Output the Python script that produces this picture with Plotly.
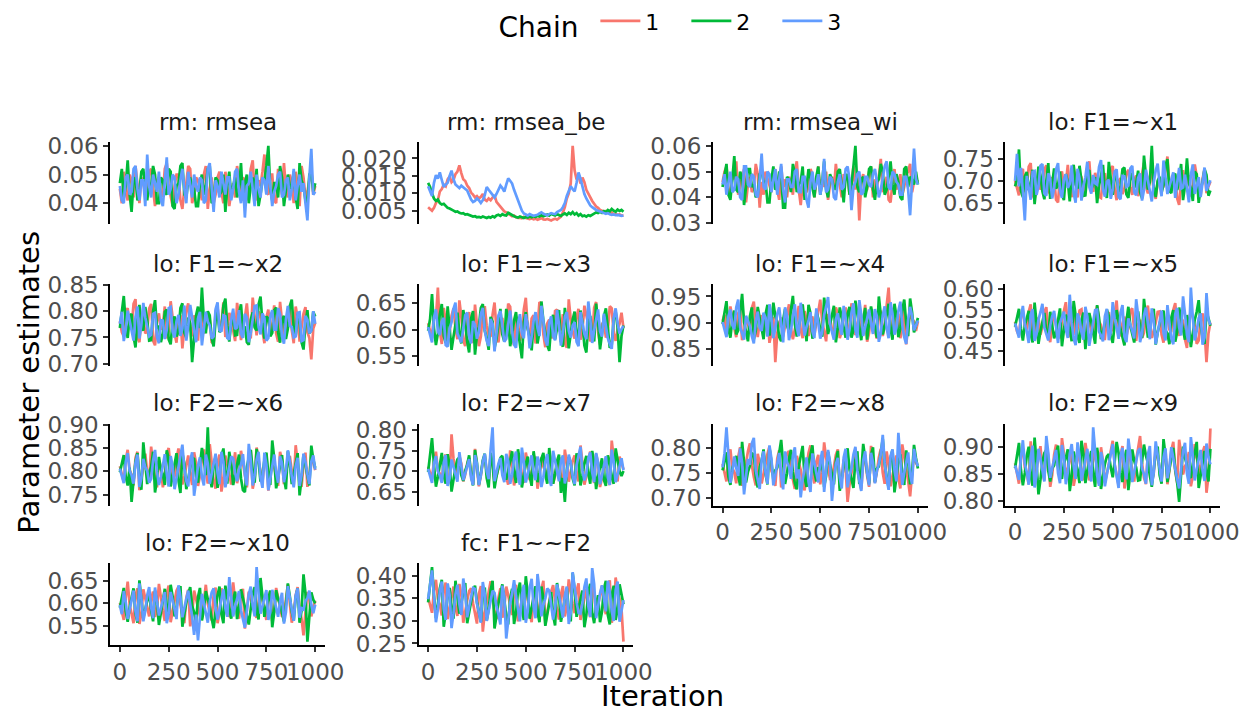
import plotly.graph_objects as go

# ---------------------------------------------------------------------------
# MCMC trace data: three chains per parameter, one draw every 10 iterations
# ---------------------------------------------------------------------------
ITER_STEP = 10

chain_labels = ["1", "2", "3"]
chain_colors = ["#F8766D", "#00BA38", "#619CFF"]

x_tick_vals = [0, 250, 500, 750, 1000]
x_tick_text = ["0", "250", "500", "750", "1000"]

# rm: rmsea
rmsea_c1 = [0.045, 0.040, 0.051, 0.044, 0.041, 0.050, 0.048, 0.042, 0.053, 0.046,
            0.040, 0.049, 0.047, 0.043, 0.044, 0.051, 0.052, 0.045, 0.039, 0.048,
            0.049, 0.042, 0.043, 0.052, 0.054, 0.046, 0.042, 0.039, 0.046, 0.050,
            0.050, 0.041, 0.038, 0.045, 0.047, 0.053, 0.052, 0.040, 0.043, 0.049,
            0.048, 0.044, 0.041, 0.050, 0.053, 0.038, 0.045, 0.049, 0.040, 0.043,
            0.049, 0.051, 0.044, 0.040, 0.051, 0.046, 0.039, 0.044, 0.047, 0.042,
            0.053, 0.048, 0.042, 0.049, 0.048, 0.041, 0.045, 0.052, 0.055, 0.043,
            0.041, 0.048, 0.046, 0.051, 0.057, 0.044, 0.043, 0.050, 0.050, 0.041,
            0.040, 0.052, 0.048, 0.043, 0.054, 0.045, 0.042, 0.050, 0.047, 0.040,
            0.051, 0.046, 0.039, 0.053, 0.049, 0.042, 0.044, 0.048, 0.052, 0.043, 0.046]
rmsea_c2 = [0.047, 0.052, 0.042, 0.046, 0.055, 0.043, 0.037, 0.048, 0.049, 0.041,
            0.044, 0.051, 0.052, 0.045, 0.041, 0.047, 0.046, 0.053, 0.050, 0.040,
            0.040, 0.049, 0.048, 0.044, 0.043, 0.052, 0.051, 0.039, 0.038, 0.046,
            0.047, 0.053, 0.054, 0.043, 0.042, 0.048, 0.049, 0.045, 0.045, 0.039,
            0.039, 0.047, 0.050, 0.043, 0.046, 0.052, 0.053, 0.040, 0.041, 0.049,
            0.048, 0.043, 0.044, 0.050, 0.037, 0.046, 0.051, 0.042, 0.046, 0.049,
            0.042, 0.045, 0.054, 0.041, 0.047, 0.050, 0.040, 0.046, 0.049, 0.044,
            0.052, 0.039, 0.043, 0.048, 0.048, 0.053, 0.060, 0.045, 0.041, 0.047,
            0.047, 0.042, 0.053, 0.049, 0.039, 0.044, 0.050, 0.046, 0.045, 0.051,
            0.042, 0.038, 0.054, 0.048, 0.046, 0.041, 0.040, 0.050, 0.051, 0.044, 0.047]
rmsea_c3 = [0.046, 0.041, 0.040, 0.049, 0.050, 0.043, 0.044, 0.052, 0.053, 0.045,
            0.041, 0.048, 0.048, 0.039, 0.057, 0.046, 0.042, 0.050, 0.047, 0.044,
            0.051, 0.041, 0.039, 0.047, 0.056, 0.043, 0.045, 0.050, 0.049, 0.040,
            0.043, 0.048, 0.052, 0.045, 0.040, 0.051, 0.047, 0.042, 0.050, 0.046,
            0.044, 0.049, 0.048, 0.040, 0.041, 0.052, 0.054, 0.044, 0.037, 0.048,
            0.046, 0.042, 0.051, 0.047, 0.043, 0.049, 0.049, 0.041, 0.045, 0.051,
            0.052, 0.044, 0.040, 0.048, 0.035, 0.046, 0.047, 0.051, 0.044, 0.039,
            0.050, 0.045, 0.042, 0.049, 0.048, 0.043, 0.053, 0.047, 0.039, 0.044,
            0.046, 0.050, 0.051, 0.042, 0.043, 0.048, 0.049, 0.041, 0.045, 0.052,
            0.041, 0.046, 0.050, 0.044, 0.047, 0.040, 0.034, 0.049, 0.059, 0.043, 0.044]
rmsea_ticks = [0.04, 0.05, 0.06]
rmsea_tick_text = ["0.04", "0.05", "0.06"]

# rm: rmsea_be
rmsea_be_c1 = [0.0060, 0.0054, 0.0050, 0.0058, 0.0072, 0.0080, 0.0105, 0.0112, 0.0125, 0.0120,
               0.0140, 0.0148, 0.0132, 0.0138, 0.0155, 0.0162, 0.0180, 0.0158, 0.0140, 0.0135,
               0.0122, 0.0115, 0.0102, 0.0096, 0.0088, 0.0092, 0.0085, 0.0090, 0.0098, 0.0082,
               0.0078, 0.0085, 0.0080, 0.0088, 0.0095, 0.0075, 0.0068, 0.0060, 0.0052, 0.0048,
               0.0045, 0.0040, 0.0038, 0.0034, 0.0036, 0.0031, 0.0029, 0.0030, 0.0028, 0.0032,
               0.0029, 0.0027, 0.0026, 0.0028, 0.0025, 0.0027, 0.0024, 0.0026, 0.0029, 0.0025,
               0.0024, 0.0026, 0.0023, 0.0022, 0.0025, 0.0027, 0.0024, 0.0028, 0.0033, 0.0045,
               0.0060, 0.0085, 0.0100, 0.0128, 0.0236, 0.0165, 0.0140, 0.0152, 0.0128, 0.0145,
               0.0132, 0.0110, 0.0098, 0.0085, 0.0078, 0.0070, 0.0062, 0.0058, 0.0052, 0.0050,
               0.0047, 0.0049, 0.0044, 0.0042, 0.0045, 0.0040, 0.0041, 0.0038, 0.0039, 0.0036, 0.0036]
rmsea_be_c2 = [0.0130, 0.0118, 0.0100, 0.0085, 0.0078, 0.0082, 0.0072, 0.0068, 0.0070, 0.0063,
               0.0058, 0.0056, 0.0052, 0.0050, 0.0047, 0.0048, 0.0044, 0.0042, 0.0043, 0.0039,
               0.0040, 0.0037, 0.0035, 0.0033, 0.0034, 0.0031, 0.0032, 0.0030, 0.0033, 0.0031,
               0.0029, 0.0032, 0.0030, 0.0034, 0.0031, 0.0036, 0.0038, 0.0035, 0.0040, 0.0037,
               0.0036, 0.0044, 0.0040, 0.0037, 0.0034, 0.0032, 0.0030, 0.0033, 0.0031, 0.0029,
               0.0032, 0.0030, 0.0033, 0.0031, 0.0034, 0.0032, 0.0035, 0.0033, 0.0037, 0.0034,
               0.0036, 0.0039, 0.0036, 0.0041, 0.0038, 0.0036, 0.0040, 0.0037, 0.0035, 0.0039,
               0.0042, 0.0038, 0.0044, 0.0040, 0.0046, 0.0039, 0.0043, 0.0036, 0.0040, 0.0034,
               0.0036, 0.0033, 0.0037, 0.0035, 0.0039, 0.0042, 0.0045, 0.0043, 0.0047, 0.0044,
               0.0049, 0.0046, 0.0052, 0.0048, 0.0055, 0.0050, 0.0047, 0.0053, 0.0049, 0.0052, 0.0047]
rmsea_be_c3 = [0.0120, 0.0105, 0.0092, 0.0130, 0.0152, 0.0142, 0.0160, 0.0138, 0.0118, 0.0125,
               0.0130, 0.0150, 0.0165, 0.0140, 0.0125, 0.0120, 0.0115, 0.0122, 0.0118, 0.0112,
               0.0108, 0.0095, 0.0082, 0.0075, 0.0078, 0.0085, 0.0080, 0.0072, 0.0080, 0.0095,
               0.0118, 0.0110, 0.0102, 0.0095, 0.0088, 0.0098, 0.0112, 0.0122, 0.0115, 0.0105,
               0.0125, 0.0143, 0.0136, 0.0128, 0.0110, 0.0095, 0.0078, 0.0065, 0.0050, 0.0042,
               0.0038, 0.0036, 0.0040, 0.0038, 0.0035, 0.0037, 0.0038, 0.0042, 0.0045, 0.0041,
               0.0039, 0.0037, 0.0040, 0.0043, 0.0041, 0.0040, 0.0046, 0.0048, 0.0052, 0.0060,
               0.0072, 0.0092, 0.0105, 0.0120, 0.0112, 0.0105, 0.0130, 0.0160, 0.0142, 0.0115,
               0.0098, 0.0085, 0.0075, 0.0065, 0.0060, 0.0055, 0.0052, 0.0050, 0.0047, 0.0046,
               0.0043, 0.0041, 0.0043, 0.0040, 0.0038, 0.0039, 0.0037, 0.0038, 0.0036, 0.0035, 0.0036]
rmsea_be_ticks = [0.005, 0.010, 0.015, 0.020]
rmsea_be_tick_text = ["0.005", "0.010", "0.015", "0.020"]

# rm: rmsea_wi
rmsea_wi_c1 = [0.046, 0.050, 0.052, 0.043, 0.040, 0.049, 0.047, 0.054, 0.041, 0.044,
               0.047, 0.051, 0.038, 0.045, 0.048, 0.042, 0.044, 0.053, 0.049, 0.036,
               0.046, 0.041, 0.050, 0.047, 0.045, 0.042, 0.049, 0.051, 0.043, 0.039,
               0.052, 0.044, 0.047, 0.040, 0.048, 0.046, 0.041, 0.050, 0.054, 0.043,
               0.037, 0.045, 0.048, 0.042, 0.044, 0.051, 0.049, 0.040, 0.046, 0.052,
               0.042, 0.047, 0.044, 0.050, 0.039, 0.045, 0.048, 0.043, 0.053, 0.046,
               0.045, 0.040, 0.049, 0.047, 0.048, 0.041, 0.045, 0.052, 0.043, 0.049,
               0.031, 0.046, 0.049, 0.042, 0.043, 0.050, 0.052, 0.040, 0.047, 0.044,
               0.048, 0.055, 0.042, 0.045, 0.048, 0.039, 0.038, 0.046, 0.051, 0.043,
               0.045, 0.049, 0.041, 0.044, 0.049, 0.050, 0.053, 0.042, 0.046, 0.047, 0.046]
rmsea_wi_c2 = [0.044, 0.049, 0.053, 0.041, 0.039, 0.047, 0.056, 0.043, 0.042, 0.050,
               0.048, 0.037, 0.045, 0.051, 0.051, 0.044, 0.045, 0.040, 0.041, 0.049,
               0.050, 0.046, 0.046, 0.038, 0.038, 0.047, 0.052, 0.043, 0.044, 0.050,
               0.049, 0.036, 0.036, 0.048, 0.047, 0.042, 0.053, 0.049, 0.042, 0.045,
               0.046, 0.052, 0.039, 0.044, 0.051, 0.047, 0.044, 0.040, 0.048, 0.052,
               0.041, 0.046, 0.054, 0.043, 0.040, 0.049, 0.047, 0.044, 0.043, 0.050,
               0.051, 0.045, 0.038, 0.048, 0.049, 0.041, 0.045, 0.052, 0.060, 0.044,
               0.042, 0.047, 0.048, 0.040, 0.044, 0.051, 0.052, 0.043, 0.039, 0.046,
               0.047, 0.053, 0.050, 0.041, 0.043, 0.048, 0.054, 0.045, 0.041, 0.049,
               0.046, 0.040, 0.039, 0.051, 0.052, 0.044, 0.048, 0.047, 0.045, 0.050, 0.045]
rmsea_wi_c3 = [0.045, 0.049, 0.041, 0.046, 0.050, 0.042, 0.043, 0.048, 0.047, 0.040,
               0.039, 0.052, 0.052, 0.045, 0.044, 0.049, 0.048, 0.041, 0.040, 0.047,
               0.057, 0.044, 0.043, 0.050, 0.049, 0.042, 0.046, 0.051, 0.041, 0.048,
               0.053, 0.043, 0.038, 0.047, 0.047, 0.044, 0.044, 0.050, 0.051, 0.042,
               0.042, 0.048, 0.048, 0.039, 0.036, 0.046, 0.050, 0.043, 0.045, 0.049,
               0.041, 0.045, 0.055, 0.042, 0.043, 0.048, 0.047, 0.040, 0.039, 0.046,
               0.049, 0.043, 0.044, 0.051, 0.052, 0.047, 0.035, 0.044, 0.046, 0.049,
               0.050, 0.041, 0.042, 0.048, 0.048, 0.045, 0.044, 0.049, 0.051, 0.046,
               0.040, 0.043, 0.047, 0.052, 0.054, 0.044, 0.043, 0.050, 0.049, 0.046,
               0.045, 0.041, 0.041, 0.048, 0.048, 0.043, 0.033, 0.045, 0.059, 0.047, 0.045]
rmsea_wi_ticks = [0.03, 0.04, 0.05, 0.06]
rmsea_wi_tick_text = ["0.03", "0.04", "0.05", "0.06"]

# lo: F1=~x1
x1_c1 = [0.702, 0.684, 0.668, 0.719, 0.728, 0.676, 0.684, 0.733, 0.741, 0.669,
         0.659, 0.702, 0.712, 0.681, 0.690, 0.727, 0.736, 0.678, 0.671, 0.709,
         0.705, 0.658, 0.652, 0.713, 0.722, 0.687, 0.694, 0.737, 0.680, 0.664,
         0.731, 0.699, 0.663, 0.716, 0.709, 0.672, 0.687, 0.731, 0.745, 0.685,
         0.676, 0.719, 0.700, 0.665, 0.662, 0.708, 0.718, 0.674, 0.691, 0.729,
         0.734, 0.682, 0.657, 0.700, 0.707, 0.671, 0.683, 0.717, 0.726, 0.688,
         0.669, 0.703, 0.713, 0.666, 0.695, 0.724, 0.742, 0.689, 0.672, 0.711,
         0.720, 0.677, 0.660, 0.698, 0.703, 0.681, 0.688, 0.723, 0.756, 0.693,
         0.679, 0.716, 0.711, 0.661, 0.646, 0.702, 0.725, 0.683, 0.697, 0.714,
         0.665, 0.690, 0.738, 0.705, 0.684, 0.668, 0.706, 0.727, 0.673, 0.688, 0.699]
x1_c2 = [0.688, 0.704, 0.772, 0.678, 0.664, 0.711, 0.721, 0.680, 0.695, 0.726,
         0.648, 0.689, 0.733, 0.714, 0.677, 0.659, 0.706, 0.741, 0.660, 0.694,
         0.729, 0.683, 0.691, 0.722, 0.671, 0.657, 0.716, 0.699, 0.654, 0.718,
         0.737, 0.692, 0.683, 0.735, 0.702, 0.667, 0.668, 0.720, 0.725, 0.681,
         0.693, 0.709, 0.650, 0.690, 0.713, 0.737, 0.680, 0.662, 0.744, 0.701,
         0.669, 0.715, 0.708, 0.675, 0.686, 0.727, 0.731, 0.670, 0.662, 0.704,
         0.719, 0.685, 0.696, 0.724, 0.675, 0.661, 0.758, 0.712, 0.681, 0.698,
         0.780, 0.687, 0.664, 0.701, 0.710, 0.674, 0.692, 0.735, 0.750, 0.678,
         0.673, 0.713, 0.717, 0.680, 0.700, 0.739, 0.657, 0.690, 0.752, 0.694,
         0.685, 0.655, 0.722, 0.716, 0.651, 0.683, 0.698, 0.728, 0.714, 0.667, 0.679]
x1_c3 = [0.701, 0.762, 0.688, 0.730, 0.676, 0.611, 0.712, 0.683, 0.658, 0.721,
         0.723, 0.669, 0.689, 0.735, 0.739, 0.672, 0.667, 0.718, 0.705, 0.661,
         0.684, 0.727, 0.741, 0.679, 0.662, 0.703, 0.716, 0.685, 0.694, 0.736,
         0.673, 0.651, 0.728, 0.706, 0.656, 0.690, 0.709, 0.744, 0.687, 0.672,
         0.714, 0.695, 0.692, 0.733, 0.748, 0.681, 0.665, 0.699, 0.703, 0.660,
         0.681, 0.722, 0.727, 0.664, 0.659, 0.712, 0.711, 0.687, 0.690, 0.729,
         0.735, 0.675, 0.668, 0.707, 0.718, 0.656, 0.680, 0.726, 0.700, 0.684,
         0.654, 0.697, 0.724, 0.740, 0.693, 0.666, 0.747, 0.709, 0.671, 0.688,
         0.706, 0.720, 0.662, 0.699, 0.730, 0.683, 0.686, 0.715, 0.677, 0.652,
         0.715, 0.738, 0.671, 0.694, 0.709, 0.664, 0.702, 0.731, 0.678, 0.693, 0.702]
x1_ticks = [0.65, 0.70, 0.75]
x1_tick_text = ["0.65", "0.70", "0.75"]

# lo: F1=~x2
x2_c1 = [0.781, 0.760, 0.752, 0.799, 0.806, 0.771, 0.768, 0.814, 0.823, 0.750,
         0.741, 0.787, 0.789, 0.758, 0.762, 0.805, 0.814, 0.744, 0.735, 0.781,
         0.796, 0.765, 0.773, 0.809, 0.748, 0.762, 0.819, 0.781, 0.757, 0.740,
         0.786, 0.792, 0.729, 0.768, 0.801, 0.815, 0.770, 0.752, 0.792, 0.779,
         0.744, 0.803, 0.811, 0.758, 0.765, 0.790, 0.783, 0.741, 0.738, 0.800,
         0.808, 0.769, 0.776, 0.817, 0.751, 0.760, 0.797, 0.784, 0.760, 0.743,
         0.816, 0.790, 0.745, 0.772, 0.788, 0.815, 0.769, 0.748, 0.826, 0.783,
         0.754, 0.799, 0.793, 0.762, 0.739, 0.788, 0.803, 0.755, 0.772, 0.811,
         0.758, 0.742, 0.818, 0.781, 0.747, 0.766, 0.785, 0.808, 0.764, 0.739,
         0.809, 0.787, 0.742, 0.770, 0.795, 0.808, 0.760, 0.749, 0.708, 0.767, 0.778]
x2_c2 = [0.768, 0.801, 0.829, 0.776, 0.749, 0.790, 0.795, 0.752, 0.731, 0.785,
         0.812, 0.770, 0.763, 0.808, 0.784, 0.744, 0.745, 0.800, 0.821, 0.767,
         0.772, 0.741, 0.757, 0.799, 0.803, 0.746, 0.737, 0.781, 0.790, 0.752,
         0.761, 0.806, 0.815, 0.759, 0.750, 0.788, 0.777, 0.703, 0.745, 0.792,
         0.809, 0.768, 0.845, 0.783, 0.758, 0.800, 0.792, 0.748, 0.733, 0.782,
         0.799, 0.760, 0.766, 0.811, 0.824, 0.773, 0.742, 0.779, 0.787, 0.754,
         0.755, 0.796, 0.813, 0.764, 0.771, 0.741, 0.736, 0.784, 0.798, 0.769,
         0.763, 0.813, 0.828, 0.777, 0.748, 0.790, 0.786, 0.752, 0.759, 0.802,
         0.807, 0.760, 0.740, 0.784, 0.791, 0.747, 0.767, 0.810, 0.822, 0.768,
         0.753, 0.795, 0.780, 0.741, 0.727, 0.775, 0.802, 0.758, 0.764, 0.799, 0.790]
x2_c3 = [0.776, 0.799, 0.743, 0.765, 0.801, 0.782, 0.760, 0.744, 0.789, 0.809,
         0.748, 0.774, 0.816, 0.788, 0.771, 0.752, 0.755, 0.795, 0.797, 0.751,
         0.739, 0.783, 0.782, 0.747, 0.764, 0.806, 0.808, 0.761, 0.750, 0.781,
         0.793, 0.753, 0.767, 0.811, 0.744, 0.772, 0.812, 0.787, 0.758, 0.741,
         0.786, 0.799, 0.735, 0.769, 0.799, 0.780, 0.773, 0.748, 0.752, 0.804,
         0.817, 0.764, 0.761, 0.792, 0.790, 0.749, 0.746, 0.783, 0.805, 0.766,
         0.769, 0.802, 0.757, 0.749, 0.795, 0.788, 0.741, 0.759, 0.781, 0.810,
         0.811, 0.770, 0.756, 0.796, 0.787, 0.744, 0.749, 0.790, 0.802, 0.765,
         0.765, 0.806, 0.794, 0.752, 0.738, 0.784, 0.810, 0.772, 0.770, 0.750,
         0.752, 0.797, 0.798, 0.743, 0.745, 0.791, 0.784, 0.758, 0.763, 0.800, 0.776]
x2_ticks = [0.70, 0.75, 0.80, 0.85]
x2_tick_text = ["0.70", "0.75", "0.80", "0.85"]

# lo: F1=~x3
x3_c1 = [0.612, 0.598, 0.584, 0.629, 0.621, 0.679, 0.597, 0.573, 0.641, 0.616,
         0.573, 0.594, 0.626, 0.640, 0.603, 0.582, 0.655, 0.624, 0.580, 0.569,
         0.618, 0.633, 0.592, 0.575, 0.647, 0.610, 0.569, 0.587, 0.631, 0.644,
         0.607, 0.590, 0.589, 0.628, 0.651, 0.600, 0.576, 0.613, 0.622, 0.583,
         0.599, 0.649, 0.643, 0.588, 0.571, 0.617, 0.615, 0.579, 0.594, 0.638,
         0.660, 0.604, 0.583, 0.621, 0.627, 0.574, 0.605, 0.652, 0.648, 0.591,
         0.567, 0.612, 0.619, 0.584, 0.590, 0.635, 0.638, 0.597, 0.601, 0.629,
         0.575, 0.566, 0.657, 0.620, 0.596, 0.583, 0.624, 0.639, 0.581, 0.598,
         0.645, 0.627, 0.609, 0.578, 0.586, 0.641, 0.652, 0.596, 0.572, 0.610,
         0.616, 0.585, 0.598, 0.644, 0.640, 0.593, 0.579, 0.601, 0.611, 0.632, 0.603]
x3_c2 = [0.598, 0.620, 0.667, 0.603, 0.571, 0.593, 0.629, 0.648, 0.588, 0.575,
         0.644, 0.609, 0.562, 0.587, 0.614, 0.632, 0.596, 0.574, 0.637, 0.612,
         0.577, 0.557, 0.621, 0.635, 0.553, 0.590, 0.606, 0.641, 0.648, 0.598,
         0.585, 0.562, 0.624, 0.615, 0.566, 0.583, 0.610, 0.639, 0.591, 0.578,
         0.639, 0.621, 0.569, 0.589, 0.617, 0.633, 0.599, 0.572, 0.546, 0.614,
         0.633, 0.601, 0.587, 0.561, 0.612, 0.625, 0.574, 0.596, 0.653, 0.617,
         0.593, 0.571, 0.560, 0.608, 0.628, 0.582, 0.602, 0.637, 0.578, 0.568,
         0.641, 0.610, 0.565, 0.590, 0.619, 0.634, 0.595, 0.583, 0.636, 0.614,
         0.570, 0.557, 0.611, 0.626, 0.589, 0.578, 0.649, 0.615, 0.563, 0.592,
         0.625, 0.640, 0.597, 0.566, 0.572, 0.619, 0.634, 0.604, 0.539, 0.588, 0.608]
x3_c3 = [0.605, 0.588, 0.576, 0.623, 0.638, 0.597, 0.590, 0.615, 0.622, 0.571,
         0.568, 0.602, 0.614, 0.639, 0.651, 0.593, 0.585, 0.576, 0.603, 0.627,
         0.632, 0.588, 0.574, 0.616, 0.609, 0.583, 0.595, 0.630, 0.641, 0.598,
         0.579, 0.569, 0.620, 0.611, 0.559, 0.590, 0.627, 0.635, 0.600, 0.577,
         0.583, 0.611, 0.636, 0.597, 0.572, 0.566, 0.611, 0.629, 0.594, 0.584,
         0.629, 0.607, 0.565, 0.587, 0.617, 0.633, 0.603, 0.588, 0.645, 0.616,
         0.581, 0.570, 0.613, 0.625, 0.588, 0.580, 0.637, 0.610, 0.570, 0.594,
         0.624, 0.633, 0.598, 0.585, 0.608, 0.614, 0.577, 0.569, 0.633, 0.612,
         0.592, 0.582, 0.653, 0.621, 0.575, 0.599, 0.616, 0.638, 0.597, 0.587,
         0.630, 0.609, 0.584, 0.573, 0.564, 0.622, 0.640, 0.612, 0.593, 0.601, 0.607]
x3_ticks = [0.55, 0.60, 0.65]
x3_tick_text = ["0.55", "0.60", "0.65"]

# lo: F1=~x4
x4_c1 = [0.903, 0.915, 0.876, 0.891, 0.931, 0.908, 0.889, 0.872, 0.918, 0.924,
         0.866, 0.883, 0.908, 0.897, 0.884, 0.928, 0.940, 0.893, 0.872, 0.901,
         0.914, 0.880, 0.895, 0.921, 0.861, 0.879, 0.911, 0.824, 0.880, 0.899,
         0.910, 0.873, 0.893, 0.917, 0.935, 0.889, 0.868, 0.887, 0.905, 0.932,
         0.886, 0.870, 0.922, 0.906, 0.874, 0.891, 0.912, 0.876, 0.898, 0.927,
         0.944, 0.902, 0.879, 0.864, 0.916, 0.909, 0.887, 0.871, 0.929, 0.918,
         0.870, 0.883, 0.909, 0.929, 0.892, 0.874, 0.937, 0.915, 0.876, 0.896,
         0.919, 0.888, 0.899, 0.934, 0.863, 0.880, 0.925, 0.901, 0.884, 0.869,
         0.911, 0.923, 0.874, 0.895, 0.933, 0.967, 0.896, 0.881, 0.881, 0.906,
         0.917, 0.870, 0.890, 0.926, 0.858, 0.889, 0.921, 0.907, 0.902, 0.884, 0.902]
x4_c2 = [0.897, 0.920, 0.941, 0.888, 0.871, 0.906, 0.923, 0.877, 0.885, 0.919,
         0.955, 0.901, 0.879, 0.864, 0.912, 0.929, 0.868, 0.884, 0.930, 0.909,
         0.890, 0.868, 0.916, 0.934, 0.875, 0.899, 0.938, 0.912, 0.901, 0.872,
         0.864, 0.905, 0.926, 0.894, 0.883, 0.925, 0.951, 0.897, 0.873, 0.889,
         0.911, 0.935, 0.895, 0.864, 0.934, 0.918, 0.869, 0.882, 0.920, 0.908,
         0.887, 0.873, 0.948, 0.914, 0.878, 0.896, 0.913, 0.932, 0.862, 0.890,
         0.929, 0.908, 0.894, 0.871, 0.917, 0.930, 0.871, 0.885, 0.942, 0.915,
         0.886, 0.866, 0.906, 0.928, 0.867, 0.898, 0.931, 0.910, 0.892, 0.871,
         0.950, 0.916, 0.877, 0.893, 0.915, 0.936, 0.888, 0.867, 0.936, 0.912,
         0.872, 0.889, 0.924, 0.944, 0.899, 0.874, 0.946, 0.920, 0.881, 0.893, 0.909]
x4_c3 = [0.901, 0.886, 0.872, 0.912, 0.925, 0.895, 0.887, 0.929, 0.944, 0.891,
         0.878, 0.867, 0.913, 0.902, 0.893, 0.874, 0.860, 0.903, 0.921, 0.890,
         0.884, 0.919, 0.909, 0.873, 0.935, 0.908, 0.870, 0.889, 0.917, 0.929,
         0.896, 0.862, 0.929, 0.914, 0.866, 0.884, 0.912, 0.935, 0.890, 0.874,
         0.938, 0.911, 0.875, 0.892, 0.903, 0.920, 0.883, 0.870, 0.927, 0.899,
         0.869, 0.881, 0.915, 0.930, 0.949, 0.897, 0.880, 0.867, 0.906, 0.918,
         0.892, 0.876, 0.932, 0.909, 0.867, 0.887, 0.919, 0.937, 0.886, 0.871,
         0.943, 0.915, 0.874, 0.892, 0.910, 0.925, 0.897, 0.878, 0.926, 0.912,
         0.863, 0.880, 0.914, 0.931, 0.889, 0.870, 0.939, 0.917, 0.877, 0.890,
         0.922, 0.940, 0.895, 0.872, 0.859, 0.905, 0.930, 0.913, 0.885, 0.894, 0.904]
x4_ticks = [0.85, 0.90, 0.95]
x4_tick_text = ["0.85", "0.90", "0.95"]

# lo: F1=~x5
x5_c1 = [0.521, 0.498, 0.488, 0.534, 0.547, 0.511, 0.502, 0.545, 0.563, 0.493,
         0.478, 0.516, 0.531, 0.490, 0.509, 0.544, 0.556, 0.497, 0.472, 0.518,
         0.540, 0.512, 0.496, 0.481, 0.525, 0.550, 0.568, 0.507, 0.484, 0.529,
         0.537, 0.489, 0.505, 0.548, 0.551, 0.495, 0.469, 0.512, 0.528, 0.497,
         0.491, 0.536, 0.559, 0.522, 0.513, 0.480, 0.480, 0.534, 0.544, 0.505,
         0.499, 0.541, 0.572, 0.503, 0.486, 0.517, 0.533, 0.486, 0.507, 0.548,
         0.553, 0.498, 0.475, 0.514, 0.526, 0.482, 0.495, 0.539, 0.560, 0.509,
         0.482, 0.501, 0.518, 0.545, 0.546, 0.490, 0.471, 0.520, 0.535, 0.502,
         0.500, 0.549, 0.566, 0.511, 0.487, 0.530, 0.523, 0.479, 0.458, 0.521,
         0.549, 0.531, 0.510, 0.468, 0.476, 0.527, 0.541, 0.499, 0.424, 0.493, 0.519]
x5_c2 = [0.509, 0.533, 0.552, 0.505, 0.476, 0.512, 0.533, 0.547, 0.492, 0.471,
         0.567, 0.517, 0.468, 0.498, 0.521, 0.542, 0.498, 0.483, 0.545, 0.515,
         0.481, 0.497, 0.529, 0.553, 0.462, 0.501, 0.538, 0.526, 0.505, 0.474,
         0.571, 0.536, 0.486, 0.470, 0.524, 0.543, 0.455, 0.497, 0.542, 0.521,
         0.497, 0.468, 0.561, 0.530, 0.479, 0.498, 0.516, 0.550, 0.535, 0.488,
         0.470, 0.516, 0.549, 0.523, 0.502, 0.478, 0.464, 0.521, 0.557, 0.512,
         0.489, 0.471, 0.527, 0.546, 0.508, 0.482, 0.576, 0.532, 0.483, 0.499,
         0.539, 0.552, 0.466, 0.495, 0.518, 0.536, 0.548, 0.501, 0.493, 0.467,
         0.531, 0.549, 0.473, 0.497, 0.555, 0.524, 0.501, 0.478, 0.537, 0.515,
         0.460, 0.493, 0.526, 0.545, 0.573, 0.511, 0.484, 0.468, 0.544, 0.530, 0.511]
x5_c3 = [0.517, 0.496, 0.483, 0.531, 0.559, 0.514, 0.498, 0.470, 0.538, 0.551,
         0.475, 0.491, 0.526, 0.544, 0.564, 0.507, 0.490, 0.476, 0.512, 0.534,
         0.547, 0.502, 0.470, 0.518, 0.532, 0.545, 0.503, 0.482, 0.586, 0.520,
         0.481, 0.465, 0.541, 0.527, 0.496, 0.478, 0.557, 0.533, 0.463, 0.491,
         0.523, 0.549, 0.550, 0.497, 0.488, 0.474, 0.534, 0.552, 0.477, 0.495,
         0.568, 0.529, 0.506, 0.480, 0.543, 0.561, 0.485, 0.472, 0.529, 0.515,
         0.499, 0.481, 0.575, 0.537, 0.472, 0.493, 0.536, 0.555, 0.511, 0.479,
         0.553, 0.522, 0.467, 0.494, 0.527, 0.548, 0.494, 0.476, 0.561, 0.519,
         0.480, 0.467, 0.539, 0.554, 0.508, 0.488, 0.582, 0.540, 0.489, 0.472,
         0.603, 0.531, 0.476, 0.499, 0.530, 0.541, 0.466, 0.483, 0.590, 0.526, 0.514]
x5_ticks = [0.45, 0.50, 0.55, 0.60]
x5_tick_text = ["0.45", "0.50", "0.55", "0.60"]

# lo: F2=~x6
x6_c1 = [0.811, 0.795, 0.778, 0.826, 0.846, 0.803, 0.793, 0.770, 0.829, 0.842,
         0.760, 0.783, 0.817, 0.838, 0.799, 0.776, 0.853, 0.822, 0.784, 0.766,
         0.822, 0.809, 0.766, 0.788, 0.838, 0.850, 0.805, 0.779, 0.790, 0.827,
         0.849, 0.802, 0.772, 0.790, 0.814, 0.834, 0.796, 0.771, 0.841, 0.818,
         0.769, 0.790, 0.826, 0.847, 0.802, 0.774, 0.858, 0.823, 0.781, 0.763,
         0.818, 0.836, 0.757, 0.786, 0.834, 0.815, 0.797, 0.772, 0.808, 0.841,
         0.775, 0.795, 0.844, 0.817, 0.789, 0.766, 0.823, 0.845, 0.763, 0.785,
         0.851, 0.820, 0.800, 0.777, 0.816, 0.838, 0.759, 0.788, 0.831, 0.809,
         0.786, 0.769, 0.842, 0.825, 0.773, 0.798, 0.820, 0.833, 0.794, 0.770,
         0.856, 0.824, 0.780, 0.767, 0.813, 0.840, 0.767, 0.791, 0.837, 0.818, 0.803]
x6_c2 = [0.798, 0.820, 0.835, 0.789, 0.770, 0.808, 0.735, 0.781, 0.821, 0.839,
         0.787, 0.761, 0.862, 0.818, 0.773, 0.797, 0.810, 0.842, 0.755, 0.784,
         0.831, 0.805, 0.794, 0.771, 0.845, 0.827, 0.768, 0.792, 0.816, 0.839,
         0.781, 0.754, 0.839, 0.817, 0.762, 0.785, 0.804, 0.829, 0.827, 0.790,
         0.776, 0.812, 0.850, 0.823, 0.792, 0.894, 0.790, 0.766, 0.812, 0.832,
         0.765, 0.788, 0.833, 0.849, 0.799, 0.774, 0.842, 0.815, 0.771, 0.793,
         0.817, 0.836, 0.785, 0.760, 0.756, 0.809, 0.829, 0.846, 0.803, 0.776,
         0.848, 0.821, 0.778, 0.795, 0.824, 0.840, 0.795, 0.771, 0.866, 0.829,
         0.764, 0.787, 0.811, 0.835, 0.786, 0.762, 0.843, 0.818, 0.773, 0.796,
         0.820, 0.839, 0.749, 0.784, 0.836, 0.817, 0.791, 0.770, 0.855, 0.826, 0.808]
x6_c3 = [0.806, 0.790, 0.775, 0.820, 0.839, 0.801, 0.792, 0.774, 0.818, 0.836,
         0.767, 0.785, 0.827, 0.809, 0.801, 0.776, 0.784, 0.823, 0.846, 0.800,
         0.771, 0.788, 0.815, 0.837, 0.795, 0.768, 0.833, 0.812, 0.762, 0.784,
         0.809, 0.835, 0.857, 0.806, 0.780, 0.768, 0.823, 0.841, 0.748, 0.779,
         0.812, 0.830, 0.788, 0.770, 0.836, 0.817, 0.774, 0.795, 0.819, 0.838,
         0.797, 0.773, 0.842, 0.821, 0.766, 0.789, 0.807, 0.832, 0.828, 0.796,
         0.779, 0.804, 0.814, 0.837, 0.793, 0.770, 0.859, 0.824, 0.770, 0.792,
         0.825, 0.842, 0.787, 0.765, 0.840, 0.815, 0.760, 0.786, 0.816, 0.836,
         0.798, 0.776, 0.832, 0.818, 0.777, 0.801, 0.845, 0.822, 0.789, 0.766,
         0.811, 0.829, 0.769, 0.791, 0.838, 0.820, 0.794, 0.773, 0.821, 0.834, 0.804]
x6_ticks = [0.75, 0.80, 0.85, 0.90]
x6_tick_text = ["0.75", "0.80", "0.85", "0.90"]

# lo: F2=~x7
x7_c1 = [0.712, 0.697, 0.681, 0.726, 0.748, 0.702, 0.695, 0.675, 0.728, 0.741,
         0.669, 0.684, 0.790, 0.731, 0.702, 0.683, 0.738, 0.719, 0.676, 0.692,
         0.719, 0.733, 0.689, 0.668, 0.755, 0.716, 0.664, 0.690, 0.724, 0.739,
         0.698, 0.676, 0.741, 0.722, 0.673, 0.689, 0.707, 0.727, 0.733, 0.700,
         0.686, 0.668, 0.751, 0.717, 0.666, 0.689, 0.715, 0.731, 0.692, 0.672,
         0.746, 0.720, 0.679, 0.698, 0.721, 0.736, 0.658, 0.687, 0.734, 0.712,
         0.700, 0.681, 0.744, 0.723, 0.671, 0.690, 0.717, 0.735, 0.687, 0.668,
         0.753, 0.721, 0.675, 0.697, 0.726, 0.739, 0.694, 0.676, 0.763, 0.722,
         0.668, 0.688, 0.730, 0.748, 0.696, 0.672, 0.742, 0.720, 0.662, 0.684,
         0.711, 0.734, 0.683, 0.667, 0.775, 0.729, 0.690, 0.676, 0.736, 0.721, 0.705]
x7_c2 = [0.699, 0.738, 0.781, 0.716, 0.663, 0.687, 0.722, 0.745, 0.690, 0.670,
         0.742, 0.716, 0.651, 0.683, 0.709, 0.729, 0.734, 0.691, 0.677, 0.702,
         0.716, 0.739, 0.693, 0.666, 0.752, 0.721, 0.668, 0.695, 0.727, 0.743,
         0.684, 0.661, 0.745, 0.718, 0.659, 0.688, 0.711, 0.733, 0.738, 0.694,
         0.680, 0.701, 0.723, 0.749, 0.697, 0.672, 0.754, 0.723, 0.661, 0.690,
         0.718, 0.736, 0.688, 0.665, 0.749, 0.716, 0.674, 0.697, 0.731, 0.745,
         0.692, 0.670, 0.757, 0.719, 0.670, 0.694, 0.725, 0.741, 0.648, 0.684,
         0.626, 0.703, 0.735, 0.719, 0.683, 0.666, 0.744, 0.726, 0.666, 0.690,
         0.720, 0.738, 0.695, 0.670, 0.750, 0.721, 0.657, 0.688, 0.714, 0.732,
         0.679, 0.665, 0.739, 0.722, 0.686, 0.670, 0.756, 0.727, 0.701, 0.689, 0.701]
x7_c3 = [0.706, 0.689, 0.672, 0.719, 0.737, 0.700, 0.690, 0.672, 0.721, 0.740,
         0.665, 0.683, 0.729, 0.711, 0.696, 0.675, 0.747, 0.718, 0.679, 0.695,
         0.713, 0.730, 0.684, 0.667, 0.740, 0.719, 0.667, 0.690, 0.724, 0.743,
         0.700, 0.681, 0.753, 0.807, 0.676, 0.698, 0.719, 0.733, 0.691, 0.674,
         0.743, 0.725, 0.670, 0.692, 0.731, 0.748, 0.687, 0.668, 0.758, 0.722,
         0.673, 0.694, 0.715, 0.739, 0.698, 0.679, 0.736, 0.719, 0.662, 0.686,
         0.723, 0.742, 0.682, 0.665, 0.750, 0.725, 0.694, 0.676, 0.726, 0.739,
         0.671, 0.690, 0.741, 0.722, 0.689, 0.669, 0.716, 0.735, 0.760, 0.703,
         0.678, 0.695, 0.732, 0.746, 0.697, 0.674, 0.745, 0.722, 0.669, 0.690,
         0.718, 0.737, 0.685, 0.667, 0.753, 0.724, 0.674, 0.694, 0.718, 0.732, 0.703]
x7_ticks = [0.65, 0.70, 0.75, 0.80]
x7_tick_text = ["0.65", "0.70", "0.75", "0.80"]

# lo: F2=~x8
x8_c1 = [0.768, 0.752, 0.733, 0.781, 0.797, 0.760, 0.751, 0.729, 0.782, 0.801,
         0.724, 0.746, 0.774, 0.793, 0.809, 0.765, 0.742, 0.725, 0.788, 0.770,
         0.729, 0.751, 0.766, 0.788, 0.803, 0.754, 0.745, 0.724, 0.779, 0.795,
         0.721, 0.741, 0.771, 0.788, 0.794, 0.746, 0.737, 0.718, 0.784, 0.767,
         0.756, 0.731, 0.715, 0.762, 0.790, 0.805, 0.748, 0.729, 0.773, 0.786,
         0.727, 0.750, 0.811, 0.780, 0.760, 0.738, 0.739, 0.764, 0.786, 0.797,
         0.719, 0.741, 0.777, 0.759, 0.692, 0.726, 0.753, 0.779, 0.798, 0.770,
         0.735, 0.717, 0.769, 0.786, 0.744, 0.722, 0.804, 0.775, 0.730, 0.752,
         0.781, 0.798, 0.750, 0.728, 0.793, 0.767, 0.723, 0.745, 0.764, 0.785,
         0.740, 0.719, 0.807, 0.778, 0.757, 0.734, 0.703, 0.748, 0.785, 0.771, 0.762]
x8_c2 = [0.755, 0.776, 0.791, 0.742, 0.726, 0.759, 0.770, 0.784, 0.744, 0.725,
         0.812, 0.777, 0.731, 0.752, 0.764, 0.789, 0.787, 0.741, 0.721, 0.762,
         0.775, 0.797, 0.748, 0.727, 0.800, 0.772, 0.736, 0.755, 0.761, 0.790,
         0.816, 0.768, 0.728, 0.749, 0.779, 0.796, 0.752, 0.729, 0.717, 0.763,
         0.783, 0.804, 0.740, 0.722, 0.769, 0.788, 0.805, 0.751, 0.733, 0.759,
         0.758, 0.781, 0.722, 0.744, 0.792, 0.768, 0.746, 0.727, 0.773, 0.794,
         0.714, 0.738, 0.767, 0.785, 0.799, 0.756, 0.738, 0.720, 0.776, 0.793,
         0.728, 0.751, 0.808, 0.774, 0.750, 0.729, 0.786, 0.801, 0.732, 0.758,
         0.763, 0.790, 0.818, 0.767, 0.741, 0.720, 0.780, 0.796, 0.711, 0.739,
         0.771, 0.787, 0.747, 0.726, 0.795, 0.774, 0.727, 0.749, 0.806, 0.780, 0.759]
x8_c3 = [0.761, 0.789, 0.841, 0.776, 0.730, 0.752, 0.783, 0.760, 0.744, 0.799,
         0.770, 0.707, 0.743, 0.778, 0.766, 0.809, 0.820, 0.754, 0.737, 0.718,
         0.776, 0.793, 0.750, 0.728, 0.805, 0.779, 0.725, 0.748, 0.771, 0.790,
         0.743, 0.717, 0.793, 0.771, 0.762, 0.738, 0.785, 0.801, 0.739, 0.757,
         0.701, 0.737, 0.758, 0.781, 0.732, 0.712, 0.789, 0.767, 0.747, 0.731,
         0.773, 0.794, 0.712, 0.748, 0.796, 0.772, 0.694, 0.736, 0.767, 0.780,
         0.740, 0.719, 0.781, 0.798, 0.721, 0.745, 0.760, 0.787, 0.802, 0.755,
         0.735, 0.714, 0.775, 0.793, 0.749, 0.725, 0.790, 0.771, 0.729, 0.754,
         0.768, 0.787, 0.826, 0.770, 0.739, 0.716, 0.784, 0.797, 0.755, 0.733,
         0.830, 0.782, 0.726, 0.750, 0.772, 0.791, 0.746, 0.728, 0.798, 0.775, 0.763]
x8_ticks = [0.70, 0.75, 0.80]
x8_tick_text = ["0.70", "0.75", "0.80"]

# lo: F2=~x9
x9_c1 = [0.870, 0.851, 0.832, 0.883, 0.898, 0.862, 0.851, 0.831, 0.911, 0.872,
         0.840, 0.859, 0.879, 0.902, 0.857, 0.838, 0.904, 0.885, 0.826, 0.848,
         0.886, 0.905, 0.863, 0.842, 0.917, 0.889, 0.845, 0.860, 0.874, 0.897,
         0.828, 0.847, 0.893, 0.876, 0.860, 0.838, 0.908, 0.884, 0.838, 0.858,
         0.881, 0.896, 0.853, 0.832, 0.900, 0.874, 0.834, 0.851, 0.868, 0.893,
         0.912, 0.868, 0.847, 0.829, 0.885, 0.902, 0.823, 0.846, 0.896, 0.873,
         0.858, 0.836, 0.876, 0.899, 0.921, 0.870, 0.843, 0.831, 0.889, 0.870,
         0.836, 0.852, 0.902, 0.881, 0.862, 0.840, 0.880, 0.896, 0.831, 0.856,
         0.894, 0.910, 0.855, 0.833, 0.914, 0.888, 0.849, 0.864, 0.872, 0.891,
         0.827, 0.845, 0.906, 0.881, 0.866, 0.848, 0.890, 0.902, 0.815, 0.846, 0.935]
x9_c2 = [0.861, 0.885, 0.908, 0.858, 0.829, 0.852, 0.884, 0.901, 0.847, 0.828,
         0.918, 0.870, 0.812, 0.839, 0.873, 0.889, 0.895, 0.856, 0.836, 0.861,
         0.866, 0.889, 0.903, 0.851, 0.841, 0.870, 0.880, 0.896, 0.818, 0.846,
         0.892, 0.874, 0.857, 0.833, 0.912, 0.887, 0.833, 0.856, 0.875, 0.893,
         0.850, 0.826, 0.899, 0.872, 0.822, 0.847, 0.869, 0.883, 0.887, 0.862,
         0.844, 0.873, 0.910, 0.889, 0.853, 0.835, 0.878, 0.895, 0.820, 0.851,
         0.896, 0.875, 0.862, 0.838, 0.839, 0.873, 0.905, 0.884, 0.871, 0.847,
         0.826, 0.858, 0.889, 0.901, 0.848, 0.832, 0.915, 0.885, 0.835, 0.859,
         0.883, 0.899, 0.858, 0.834, 0.798, 0.858, 0.901, 0.880, 0.867, 0.846,
         0.843, 0.869, 0.893, 0.910, 0.824, 0.850, 0.877, 0.893, 0.855, 0.836, 0.897]
x9_c3 = [0.866, 0.850, 0.839, 0.880, 0.913, 0.869, 0.854, 0.830, 0.882, 0.903,
         0.825, 0.847, 0.897, 0.878, 0.860, 0.836, 0.921, 0.890, 0.843, 0.861,
         0.876, 0.895, 0.852, 0.833, 0.904, 0.882, 0.831, 0.853, 0.888, 0.906,
         0.865, 0.841, 0.909, 0.885, 0.837, 0.856, 0.878, 0.897, 0.858, 0.836,
         0.937, 0.893, 0.848, 0.828, 0.891, 0.874, 0.827, 0.849, 0.869, 0.889,
         0.906, 0.868, 0.845, 0.824, 0.884, 0.899, 0.863, 0.840, 0.916, 0.887,
         0.835, 0.857, 0.874, 0.893, 0.898, 0.860, 0.850, 0.832, 0.887, 0.902,
         0.829, 0.853, 0.911, 0.885, 0.857, 0.836, 0.881, 0.898, 0.842, 0.862,
         0.900, 0.878, 0.864, 0.840, 0.823, 0.860, 0.893, 0.908, 0.851, 0.832,
         0.919, 0.884, 0.838, 0.859, 0.879, 0.895, 0.856, 0.837, 0.907, 0.882, 0.868]
x9_ticks = [0.80, 0.85, 0.90]
x9_tick_text = ["0.80", "0.85", "0.90"]

# lo: F2=~x10
x10_c1 = [0.601, 0.584, 0.563, 0.612, 0.648, 0.597, 0.578, 0.556, 0.617, 0.633,
          0.554, 0.576, 0.631, 0.608, 0.590, 0.571, 0.609, 0.626, 0.570, 0.588,
          0.643, 0.611, 0.584, 0.561, 0.622, 0.639, 0.558, 0.582, 0.604, 0.628,
          0.637, 0.596, 0.575, 0.556, 0.612, 0.630, 0.549, 0.575, 0.628, 0.607,
          0.593, 0.572, 0.566, 0.607, 0.641, 0.599, 0.581, 0.562, 0.619, 0.635,
          0.556, 0.580, 0.633, 0.613, 0.597, 0.574, 0.572, 0.605, 0.646, 0.606,
          0.587, 0.566, 0.615, 0.632, 0.544, 0.579, 0.626, 0.609, 0.599, 0.577,
          0.568, 0.603, 0.639, 0.608, 0.583, 0.563, 0.610, 0.627, 0.561, 0.584,
          0.634, 0.612, 0.592, 0.570, 0.574, 0.611, 0.642, 0.601, 0.557, 0.579,
          0.618, 0.636, 0.589, 0.566, 0.529, 0.580, 0.625, 0.607, 0.571, 0.590, 0.606]
x10_c2 = [0.590, 0.612, 0.634, 0.583, 0.559, 0.591, 0.616, 0.633, 0.578, 0.557,
          0.651, 0.610, 0.567, 0.588, 0.605, 0.623, 0.585, 0.560, 0.628, 0.602,
          0.552, 0.577, 0.611, 0.632, 0.596, 0.574, 0.641, 0.615, 0.571, 0.590,
          0.623, 0.638, 0.548, 0.577, 0.602, 0.621, 0.636, 0.594, 0.580, 0.557,
          0.614, 0.634, 0.562, 0.586, 0.627, 0.609, 0.594, 0.566, 0.545, 0.583,
          0.618, 0.637, 0.576, 0.556, 0.639, 0.612, 0.587, 0.566, 0.608, 0.626,
          0.565, 0.590, 0.631, 0.612, 0.591, 0.568, 0.553, 0.588, 0.621, 0.636,
          0.583, 0.564, 0.656, 0.614, 0.570, 0.591, 0.610, 0.628, 0.547, 0.580,
          0.629, 0.609, 0.598, 0.575, 0.560, 0.598, 0.644, 0.616, 0.581, 0.562,
          0.613, 0.633, 0.557, 0.583, 0.664, 0.622, 0.515, 0.571, 0.624, 0.608, 0.600]
x10_c3 = [0.596, 0.576, 0.627, 0.603, 0.565, 0.588, 0.609, 0.628, 0.582, 0.560,
          0.644, 0.611, 0.560, 0.583, 0.618, 0.636, 0.591, 0.567, 0.635, 0.605,
          0.573, 0.589, 0.606, 0.625, 0.556, 0.577, 0.625, 0.609, 0.587, 0.565,
          0.640, 0.614, 0.569, 0.590, 0.612, 0.628, 0.598, 0.571, 0.530, 0.575,
          0.518, 0.578, 0.621, 0.600, 0.579, 0.557, 0.603, 0.624, 0.633, 0.590,
          0.564, 0.587, 0.615, 0.631, 0.589, 0.570, 0.658, 0.617, 0.571, 0.593,
          0.608, 0.627, 0.584, 0.563, 0.546, 0.583, 0.620, 0.637, 0.595, 0.571,
          0.680, 0.622, 0.577, 0.594, 0.613, 0.629, 0.563, 0.580, 0.630, 0.609,
          0.592, 0.570, 0.604, 0.623, 0.555, 0.580, 0.638, 0.614, 0.581, 0.561,
          0.617, 0.633, 0.568, 0.589, 0.586, 0.605, 0.611, 0.628, 0.597, 0.578, 0.597]
x10_ticks = [0.55, 0.60, 0.65]
x10_tick_text = ["0.55", "0.60", "0.65"]

# fc: F1~~F2
f1f2_c1 = [0.352, 0.331, 0.318, 0.367, 0.391, 0.348, 0.336, 0.312, 0.368, 0.385,
           0.304, 0.327, 0.357, 0.376, 0.329, 0.311, 0.382, 0.358, 0.296, 0.323,
           0.345, 0.366, 0.372, 0.339, 0.312, 0.294, 0.360, 0.377, 0.276, 0.318,
           0.340, 0.361, 0.388, 0.351, 0.321, 0.304, 0.351, 0.372, 0.307, 0.329,
           0.376, 0.357, 0.334, 0.313, 0.362, 0.380, 0.299, 0.326, 0.348, 0.368,
           0.385, 0.347, 0.316, 0.297, 0.355, 0.374, 0.331, 0.312, 0.370, 0.389,
           0.292, 0.320, 0.343, 0.365, 0.379, 0.344, 0.325, 0.303, 0.358, 0.377,
           0.310, 0.333, 0.392, 0.362, 0.338, 0.317, 0.366, 0.383, 0.302, 0.328,
           0.353, 0.371, 0.327, 0.308, 0.384, 0.359, 0.314, 0.336, 0.361, 0.378,
           0.335, 0.315, 0.373, 0.390, 0.296, 0.322, 0.396, 0.364, 0.349, 0.327, 0.254]
f1f2_c2 = [0.341, 0.379, 0.419, 0.357, 0.306, 0.337, 0.372, 0.391, 0.287, 0.318,
           0.354, 0.373, 0.330, 0.305, 0.389, 0.352, 0.316, 0.339, 0.362, 0.384,
           0.295, 0.322, 0.347, 0.366, 0.378, 0.341, 0.321, 0.298, 0.356, 0.374,
           0.301, 0.325, 0.368, 0.389, 0.283, 0.314, 0.339, 0.360, 0.381, 0.347,
           0.311, 0.292, 0.350, 0.371, 0.293, 0.318, 0.366, 0.385, 0.327, 0.302,
           0.399, 0.360, 0.305, 0.329, 0.358, 0.377, 0.319, 0.297, 0.376, 0.352,
           0.289, 0.316, 0.343, 0.364, 0.312, 0.290, 0.384, 0.355, 0.298, 0.321,
           0.352, 0.373, 0.324, 0.299, 0.406, 0.368, 0.309, 0.331, 0.345, 0.367,
           0.286, 0.313, 0.364, 0.382, 0.318, 0.295, 0.335, 0.357, 0.297, 0.320,
           0.371, 0.389, 0.313, 0.292, 0.357, 0.378, 0.302, 0.326, 0.381, 0.356, 0.337]
f1f2_c3 = [0.348, 0.382, 0.412, 0.355, 0.297, 0.326, 0.365, 0.387, 0.326, 0.302,
           0.383, 0.358, 0.284, 0.317, 0.359, 0.380, 0.337, 0.313, 0.394, 0.363,
           0.308, 0.331, 0.352, 0.373, 0.371, 0.338, 0.319, 0.296, 0.386, 0.359,
           0.300, 0.325, 0.346, 0.367, 0.362, 0.332, 0.315, 0.292, 0.378, 0.353,
           0.261, 0.303, 0.339, 0.361, 0.390, 0.355, 0.322, 0.299, 0.357, 0.380,
           0.296, 0.321, 0.374, 0.393, 0.331, 0.306, 0.404, 0.369, 0.310, 0.335,
           0.350, 0.372, 0.367, 0.336, 0.303, 0.327, 0.381, 0.357, 0.328, 0.307,
           0.355, 0.376, 0.293, 0.318, 0.408, 0.373, 0.341, 0.318, 0.316, 0.339,
           0.375, 0.394, 0.333, 0.309, 0.417, 0.382, 0.306, 0.331, 0.361, 0.379,
           0.344, 0.321, 0.389, 0.365, 0.321, 0.300, 0.368, 0.387, 0.298, 0.326, 0.346]
f1f2_ticks = [0.25, 0.30, 0.35, 0.40]
f1f2_tick_text = ["0.25", "0.30", "0.35", "0.40"]

panel_titles = ["rm: rmsea", "rm: rmsea_be", "rm: rmsea_wi", "lo: F1=~x1",
                "lo: F1=~x2", "lo: F1=~x3", "lo: F1=~x4", "lo: F1=~x5",
                "lo: F2=~x6", "lo: F2=~x7", "lo: F2=~x8", "lo: F2=~x9",
                "lo: F2=~x10", "fc: F1~~F2"]

panel_chains = [
    (rmsea_c1, rmsea_c2, rmsea_c3),
    (rmsea_be_c1, rmsea_be_c2, rmsea_be_c3),
    (rmsea_wi_c1, rmsea_wi_c2, rmsea_wi_c3),
    (x1_c1, x1_c2, x1_c3),
    (x2_c1, x2_c2, x2_c3),
    (x3_c1, x3_c2, x3_c3),
    (x4_c1, x4_c2, x4_c3),
    (x5_c1, x5_c2, x5_c3),
    (x6_c1, x6_c2, x6_c3),
    (x7_c1, x7_c2, x7_c3),
    (x8_c1, x8_c2, x8_c3),
    (x9_c1, x9_c2, x9_c3),
    (x10_c1, x10_c2, x10_c3),
    (f1f2_c1, f1f2_c2, f1f2_c3),
]
panel_ticks = [
    (rmsea_ticks, rmsea_tick_text), (rmsea_be_ticks, rmsea_be_tick_text),
    (rmsea_wi_ticks, rmsea_wi_tick_text), (x1_ticks, x1_tick_text),
    (x2_ticks, x2_tick_text), (x3_ticks, x3_tick_text),
    (x4_ticks, x4_tick_text), (x5_ticks, x5_tick_text),
    (x6_ticks, x6_tick_text), (x7_ticks, x7_tick_text),
    (x8_ticks, x8_tick_text), (x9_ticks, x9_tick_text),
    (x10_ticks, x10_tick_text), (f1f2_ticks, f1f2_tick_text),
]

# ---------------------------------------------------------------------------
# Facet grid geometry (pixels), 4 columns, free y scales
# ---------------------------------------------------------------------------
W, H = 1250, 721
col_left = [112, 425, 724, 1021]
panel_w = 218
row_top = [133, 280, 425, 570]
panel_h = 85
n_cols = 4
n_panels = len(panel_titles)

FONT = "DejaVu Sans"
TICK_COLOR = "#4D4D4D"
TICK_SIZE = 23
STRIP_SIZE = 23
TITLE_SIZE = 29

fig = go.Figure()
layout_axes = {}
annotations = []

for p in range(n_panels):
    r, c = divmod(p, n_cols)
    left, top = col_left[c], row_top[r]
    ax_id = "" if p == 0 else str(p + 1)
    xref, yref = "x" + ax_id, "y" + ax_id

    chains = panel_chains[p]
    for k, values in enumerate(chains):
        fig.add_trace(go.Scatter(
            x=[ITER_STEP * i for i in range(len(values))], y=values,
            mode="lines",
            line=dict(color=chain_colors[k], width=2.7),
            name=chain_labels[k], legendgroup=chain_labels[k],
            showlegend=(p == 0), xaxis=xref, yaxis=yref,
        ))

    # ggplot-style 5% expansion around the data
    all_vals = [v for ch in chains for v in ch]
    lo, hi = min(all_vals), max(all_vals)
    pad = 0.05 * (hi - lo)

    # the lowest panel in each column carries the x axis
    has_x = p + n_cols >= n_panels

    tickvals, ticktext = panel_ticks[p]
    layout_axes["xaxis" + ax_id] = dict(
        domain=[left / W, (left + panel_w) / W],
        anchor=yref, range=[-49, 1050], visible=has_x,
        showgrid=False, zeroline=False,
        showline=True, linecolor="black", linewidth=2,
        ticks="outside", ticklen=5, tickwidth=2, tickcolor="#333333",
        tickvals=x_tick_vals, ticktext=x_tick_text, tickangle=0,
        tickfont=dict(family=FONT, size=TICK_SIZE, color=TICK_COLOR),
    )
    layout_axes["yaxis" + ax_id] = dict(
        domain=[1 - (top + panel_h) / H, 1 - top / H],
        anchor=xref, range=[lo - pad, hi + pad],
        showgrid=False, zeroline=False,
        showline=True, linecolor="black", linewidth=2,
        ticks="outside", ticklen=5, tickwidth=2, tickcolor="#333333",
        tickvals=tickvals, ticktext=ticktext,
        tickfont=dict(family=FONT, size=TICK_SIZE, color=TICK_COLOR),
    )

    annotations.append(dict(
        text=panel_titles[p], xref="paper", yref="paper",
        x=(left + panel_w / 2) / W, y=1 - (top - 21) / H,
        xanchor="center", yanchor="middle", showarrow=False,
        font=dict(family=FONT, size=STRIP_SIZE, color="#1A1A1A"),
    ))

annotations.append(dict(
    text="Parameter estimates", xref="paper", yref="paper",
    x=30 / W, y=1 - 382 / H, xanchor="center", yanchor="middle",
    textangle=-90, showarrow=False,
    font=dict(family=FONT, size=TITLE_SIZE, color="black"),
))
annotations.append(dict(
    text="Iteration", xref="paper", yref="paper",
    x=673 / W, y=1 - 708 / H, xanchor="center", yanchor="middle",
    showarrow=False, font=dict(family=FONT, size=TITLE_SIZE, color="black"),
))

fig.update_layout(
    width=W, height=H,
    margin=dict(l=0, r=0, t=0, b=0),
    paper_bgcolor="white", plot_bgcolor="white",
    font=dict(family=FONT),
    showlegend=True,
    legend=dict(
        orientation="h", x=693 / W, xanchor="center",
        y=1 - 10 / H, yanchor="middle",
        title=dict(text="Chain ", side="left",
                   font=dict(family=FONT, size=28, color="black")),
        font=dict(family=FONT, size=22, color="black"),
        itemwidth=40, entrywidth=36, entrywidthmode="pixels",
    ),
    annotations=annotations,
    **layout_axes,
)

fig.write_html("out.html")
